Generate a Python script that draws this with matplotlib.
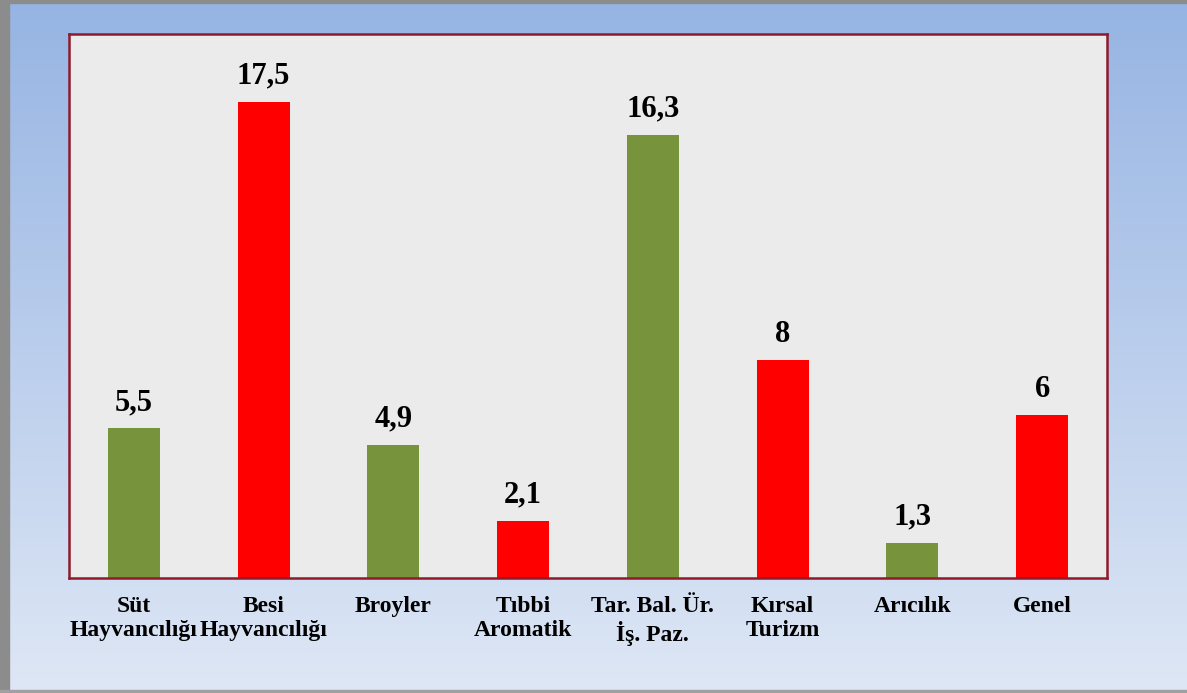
import numpy as np
import matplotlib
matplotlib.use('Agg')
import matplotlib.pyplot as plt
import matplotlib as mpl

mpl.rcParams['font.family'] = ['Liberation Serif', 'DejaVu Serif']
mpl.rcParams['font.weight'] = 'bold'

categories = ['Süt\nHayvancılığı', 'Besi\nHayvancılığı', 'Broyler', 'Tıbbi\nAromatik',
              'Tar. Bal. Ür.\nİş. Paz.', 'Kırsal\nTurizm', 'Arıcılık', 'Genel']
values = [5.5, 17.5, 4.9, 2.1, 16.3, 8, 1.3, 6]
value_labels = ['5,5', '17,5', '4,9', '2,1', '16,3', '8', '1,3', '6']
bar_colors = ['#77933C', '#FF0000', '#77933C', '#FF0000', '#77933C', '#FF0000', '#77933C', '#FF0000']

fig = plt.figure(figsize=(11.87, 6.93), dpi=100)

# background gradient over whole figure
bg = fig.add_axes([0, 0, 1, 1], zorder=-10)
top = np.array([150, 180, 227]) / 255.
bot = np.array([222, 231, 245]) / 255.
t = np.linspace(0, 1, 256)[:, None]
grad = (top[None, :] * (1 - t) + bot[None, :] * t)[:, None, :]
bg.imshow(grad, aspect='auto', extent=[0, 1, 0, 1])
bg.set_xlim(0, 1)
bg.set_ylim(0, 1)
bg.axis('off')
# grey frame strips
bg.axvspan(0, 9 / 1187., color='#8c8c8c')
bg.axhspan(1 - 3 / 693., 1, color='#8c8c8c')
bg.axhspan(0, 3 / 693., color='#a0a0a0')

ax = fig.add_axes([69 / 1187., 115 / 693., 1038 / 1187., 544 / 693.])
ax.set_facecolor('#ebebeb')
x = np.arange(len(values))
ax.bar(x, values, width=0.4, color=bar_colors, zorder=2)
for xi, v, lab in zip(x, values, value_labels):
    ax.annotate(lab, (xi, v), xytext=(0, 8), textcoords='offset points',
                ha='center', va='bottom', fontsize=22, fontweight='bold', color='black')

ax.set_xlim(-0.5, 7.5)
ax.set_ylim(0, 20)
ax.set_yticks([])
ax.set_xticks(x)
ax.set_xticklabels(categories, fontsize=17, fontweight='bold', linespacing=1.18)
ax.tick_params(axis='x', length=0, pad=13)
for s in ax.spines.values():
    s.set_color('#8e1a2c')
    s.set_linewidth(1.8)

plt.savefig('out.png', dpi=100)
